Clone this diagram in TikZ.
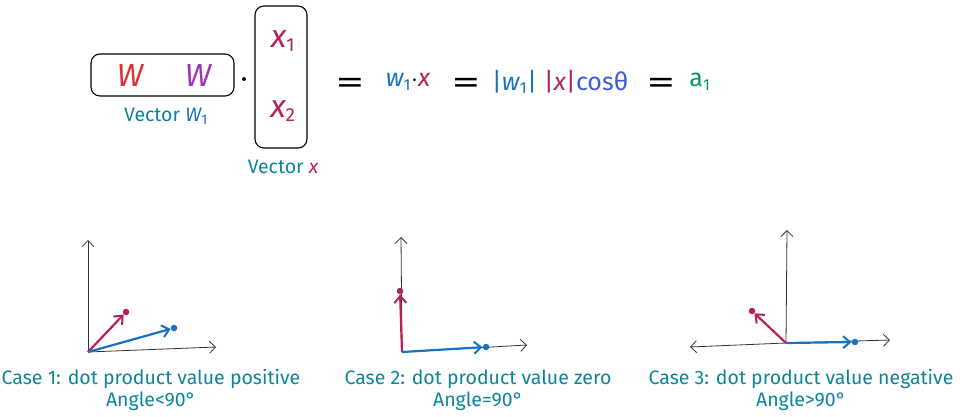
\documentclass[tikz,border=0pt]{standalone}
\usepackage{fontspec}
\setmainfont{Fira Sans}
\usetikzlibrary{arrows.meta}
\definecolor{cteal}{HTML}{0C8599}
\definecolor{ccrim}{HTML}{B5215A}
\definecolor{cblue}{HTML}{1971C2}
\definecolor{cindigo}{HTML}{3B5BDB}
\definecolor{cred}{HTML}{E03131}
\definecolor{cpurple}{HTML}{9C36B5}
\definecolor{cgreen}{HTML}{099268}
\newcommand\smallsub[2][16]{\textsubscript{\upshape\fontsize{#1}{#1}\selectfont #2}}
\newcommand\bigeq{{\scalebox{2.3}[1.3]{=}}}
\begin{document}
\begin{tikzpicture}[x=1pt,y=-1pt,
  box/.style={draw,rounded corners=9pt,line width=1.1pt,inner sep=0pt},
  big/.style={font=\fontsize{32}{34}\selectfont\itshape},
  eq/.style={font=\fontsize{25}{27}\selectfont},
  axis/.style={line width=0.8pt,draw=black!80,-{Straight Barb[length=6pt,width=12pt]}},
  vec/.style={line width=2.2pt,-{Straight Barb[length=7pt,width=12pt,line width=2pt]}},
  tipdot/.style={circle,inner sep=0pt,minimum size=6.5pt},
  lab/.style={text=cteal,font=\fontsize{19.5}{22}\selectfont,align=center}]
\useasboundingbox (0,0) rectangle (960,417);
% top row
\node[box,minimum width=143pt,minimum height=42pt] (wbox) at (162.5,75) {};
\node[big,text=cred] (w1) at (130,75) {W};
\node[big,text=cpurple] (w2) at (198,75) {W};
\node[circle,fill,inner sep=0pt,minimum size=4pt] (dot) at (244,79) {};
\node[box,minimum width=52pt,minimum height=142pt] (xbox) at (281,77) {};
\node[big,text=ccrim] (x1) at (283,41) {x\smallsub[19]{1}};
\node[big,text=ccrim] (x2) at (283,111) {x\smallsub[19]{2}};
\node[lab] (vw) at (166,116) {Vector \textcolor{cblue}{\itshape W\smallsub[14]{1}}};
\node[lab] (vx) at (283,167) {Vector \textcolor{ccrim}{\itshape x}};
% equation
\node[eq] (e1) at (350,86) {\bigeq};
\node[eq] (p1) at (408,82) {\textcolor{cblue}{\itshape w\smallsub{1}}$\cdot$\textcolor{ccrim}{\itshape x}};
\node[eq] (e2) at (466,86) {\bigeq};
\node[eq] (p2) at (560,82) {\textcolor{cblue}{|{\itshape w}\smallsub{1}|} \textcolor{ccrim}{|{\itshape x}|}\textcolor{cindigo}{cosθ}};
\node[eq] (e3) at (661,86) {\bigeq};
\node[eq,text=cgreen] (a1) at (700,82) {a\smallsub{1}};
% case 1
\coordinate (o1) at (88,352);
\coordinate (ya1) at (88,240);
\coordinate (xa1) at (216,347);
\draw[axis] (o1) -- (ya1);
\draw[axis] (o1) -- (xa1);
\node[tipdot,fill=ccrim] (r1) at (126,312) {};
\node[tipdot,fill=cblue] (b1) at (174,328) {};
\draw[vec,ccrim] (o1) -- (r1);
\draw[vec,cblue] (o1) -- (b1);
\node[lab] (c1) at (151,390) {Case 1: dot product value positive\\Angle<90°};
% case 2
\coordinate (o2) at (402,352);
\coordinate (ya2) at (401,237);
\coordinate (xa2) at (527,345);
\draw[axis] (o2) -- (ya2);
\draw[axis] (o2) -- (xa2);
\node[tipdot,fill=ccrim] (r2) at (400,291) {};
\node[tipdot,fill=cblue] (b2) at (486,347) {};
\draw[vec,ccrim] (o2) -- (r2);
\draw[vec,cblue] (o2) -- (b2);
\node[lab] (c2) at (478,390) {Case 2: dot product value zero\\Angle=90°};
% case 3
\coordinate (o3) at (786,343);
\coordinate (ya3) at (787,230);
\coordinate (xr3) at (890,340);
\coordinate (xl3) at (690,347);
\draw[axis] (o3) -- (ya3);
\draw[axis] (o3) -- (xr3);
\draw[axis] (o3) -- (xl3);
\node[tipdot,fill=ccrim] (r3) at (752,311) {};
\node[tipdot,fill=cblue] (b3) at (855,342) {};
\draw[vec,ccrim] (o3) -- (r3);
\draw[vec,cblue] (o3) -- (b3);
\node[lab] (c3) at (801,390) {Case 3: dot product value negative\\Angle>90°};
\end{tikzpicture}
\end{document}
